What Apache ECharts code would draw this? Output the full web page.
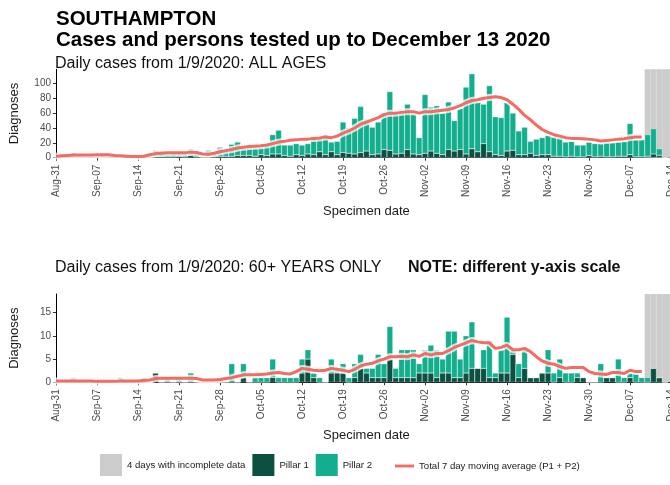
<!DOCTYPE html>
<html>
<head>
<meta charset="utf-8">
<script src="https://cdn.jsdelivr.net/npm/echarts@6/dist/echarts.min.js"></script>
<style>
  html, body { margin: 0; padding: 0; overflow: hidden; background: #fff; width: 670px; height: 485px; }
  #chart { width: 680px; height: 485px; }
</style>
</head>
<body>
<div id="chart"></div>
<script>
// Weekly tick labels, one every 7 days starting 31 Aug 2020
const tickLabels = ['Aug-31','Sep-07','Sep-14','Sep-21','Sep-28','Oct-05','Oct-12','Oct-19',
                    'Oct-26','Nov-02','Nov-09','Nov-16','Nov-23','Nov-30','Dec-07','Dec-14'];

// Daily diagnoses, all ages (index 0 = 31 Aug ... 104 = 13 Dec)
const allPillar1 = [
  0,0,1,0,1,0,1,1,0,1,
  1,0,0,0,0,1,1,1,1,1,
  1,2,1,3,1,0,1,1,2,2,
  2,3,3,3,2,4,3,5,5,3,
  2,4,3,5,4,8,4,8,4,7,
  6,5,7,9,4,5,11,10,5,6,
  11,5,4,6,9,6,4,11,9,11,
  5,12,8,19,8,4,3,9,10,4,
  4,6,3,4,4,2,2,1,2,1,
  1,3,1,2,1,1,2,2,4,1,
  1,2,5,3,0
];
const allPillar2 = [
  1,2,1,7,2,2,3,3,3,3,
  2,2,1,2,1,1,3,9,8,4,
  5,5,4,9,5,2,9,4,12,7,
  16,18,9,10,11,10,13,26,32,14,
  15,15,14,14,25,20,27,13,18,41,
  34,48,62,43,37,43,50,79,55,53,
  61,54,23,79,59,64,56,64,41,55,
  90,101,67,53,89,51,51,65,50,32,
  37,16,22,23,26,26,25,20,20,16,
  16,18,18,17,20,19,19,20,42,23,
  23,29,34,9,0
];
// 7 day moving average (P1 + P2), all ages, up to 9 Dec
const allAverage = [
  2,2.5,3,3.5,3.5,3.5,3.5,4,4,4,
  3,2.5,2,1.5,1.5,2,4,5.5,6,6.5,
  6.5,6.5,6.5,7.5,7,5,4.5,6,8,9.5,
  11,13,14,15,15.5,16,17,19,21,22,
  23.5,24,25,25,26,26.5,28,27,29,33,
  36,40,45,48,51,54,58,60,60,61,
  62,62,60,62,62,63,64,65,67,70,
  74,77,78,80,81,82,81,78,72,65,
  57,51,44,38,34,31,29,27,26,26,
  25.5,25,24,22.5,23,24,25,25.5,27,28,
  28
];

// Daily diagnoses, 60+ years only
const oldPillar1 = [
  0,0,0,0,0,0,0,0,0,0,
  0,0,0,0,0,0,0,2,0,0,
  0,0,0,0,0,0,0,0,0,0,
  0,0,1,0,0,0,0,1,0,0,
  0,0,2,5,1,0,0,2,2,2,
  0,1,3,2,1,1,1,5,1,1,
  1,1,2,2,2,1,2,2,1,1,
  2,3,3,3,1,1,2,2,6,1,
  3,1,1,2,2,0,1,0,0,1,
  1,0,0,0,1,1,0,0,1,0,
  0,0,3,1,0
];
const oldPillar2 = [
  0,0,0,1,0,0,0,0,0,0,
  0,1,0,0,0,1,0,0,0,1,
  0,1,0,2,0,0,0,0,1,0,
  4,0,3,0,1,1,1,4,1,1,
  1,1,3,2,1,1,0,3,1,2,
  1,3,3,1,2,5,3,7,2,6,
  6,6,2,5,6,6,3,9,10,4,
  8,10,0,4,8,1,5,12,1,3,
  4,0,0,0,5,2,4,2,2,1,
  0,0,0,4,0,0,5,1,1,2,
  1,1,0,0,0
];
const oldAverage = [
  0.3,0.3,0.3,0.3,0.3,0.3,0.3,0.2,0.2,0.2,
  0.2,0.3,0.3,0.3,0.3,0.4,0.5,0.8,0.85,0.85,
  0.85,0.85,0.85,0.85,0.8,0.5,0.5,0.5,0.6,0.8,
  1.0,1.3,1.6,1.6,1.6,1.7,1.8,2.0,2.1,1.9,
  1.8,2.3,3.0,2.8,2.6,2.5,2.6,3.0,2.8,2.6,
  2.3,2.8,3.5,3.9,4.1,4.6,5.0,5.5,5.5,5.6,
  5.5,5.9,5.6,6.2,5.9,6.2,6.2,6.8,7.5,8.0,
  8.5,9.0,8.7,8.5,8.5,7.3,7.5,8.0,7.0,7.0,
  7.3,6.6,5.5,4.6,4.1,3.9,3.4,3.0,3.2,3.2,
  3.2,2.3,1.9,1.8,1.7,2.1,2.1,1.9,2.6,2.3,
  2.3
];

const allTicksY = [0, 20, 40, 60, 80, 100];
const oldTicksY = [0, 5, 10, 15];
const allMaxY = 119;
const oldMaxY = 19;
const incompleteFirstDay = 101;   // 10 Dec: from here on the data are incomplete

const NAME_GREY = '4 days with incomplete data';
const NAME_P1 = 'Pillar 1';
const NAME_P2 = 'Pillar 2';
const NAME_AVG = 'Total 7 day moving average (P1 + P2)';

const COL_GREY = '#CCCCCC';
const COL_P1 = '#0B5040';
const COL_P2 = '#13AE8E';
const COL_AVG = '#F56A62';
const FONT = '"Liberation Sans", Arial, sans-serif';

// One category per day from 31 Aug to 15 Dec 2020; the axis runs from the first to the last day
const MONTHS = ['Jan','Feb','Mar','Apr','May','Jun','Jul','Aug','Sep','Oct','Nov','Dec'];
const dayCategories = Array.from({ length: 107 }, (_, i) => {
  const d = new Date(Date.UTC(2020, 7, 31 + i));
  return MONTHS[d.getUTCMonth()] + '-' + String(d.getUTCDate()).padStart(2, '0');
});
// full-height shading over the incomplete days, up to the right edge
const bandFor = maxY => dayCategories.map((_, i) => (i >= incompleteFirstDay && i <= 105) ? maxY : null);

const chart = echarts.init(document.getElementById('chart'), null, { renderer: 'canvas' });

function makeX(gridIndex) {
  return {
    type: 'category', gridIndex, data: dayCategories, boundaryGap: false,
    splitLine: { show: false },
    axisLine: { show: true, onZero: false, lineStyle: { color: '#000', width: 1 } },
    axisTick: { show: true, length: 3, interval: 6, lineStyle: { color: '#333' } },
    axisLabel: {
      rotate: 90, margin: 7, fontSize: 10, color: '#4d4d4d', fontFamily: FONT,
      interval: 6,
      formatter: (v, i) => tickLabels[Math.round(i / 7)] || v
    },
    name: 'Specimen date', nameLocation: 'middle', nameGap: 47,
    nameTextStyle: { fontSize: 13, color: '#1a1a1a', fontFamily: FONT }
  };
}
function makeY(gridIndex, max, ticks) {
  return {
    type: 'value', gridIndex, min: 0, max: max,
    splitLine: { show: false },
    axisLine: { show: true, lineStyle: { color: '#000', width: 1 } },
    axisTick: { show: true, length: 3, customValues: ticks, lineStyle: { color: '#333' } },
    axisLabel: { margin: 5, fontSize: 10, color: '#4d4d4d', fontFamily: FONT, customValues: ticks },
    name: 'Diagnoses', nameLocation: 'middle', nameRotate: 90, nameGap: 35,
    nameTextStyle: { fontSize: 13, color: '#1a1a1a', fontFamily: FONT }
  };
}
function panelSeries(idx, p1, p2, avg, maxY) {
  const barBase = { type: 'bar', xAxisIndex: idx, yAxisIndex: idx, barWidth: 5.87, barGap: '-100%' };
  return [
    Object.assign({}, barBase, {
      name: NAME_GREY, data: bandFor(maxY), z: 1, silent: true,
      itemStyle: { color: COL_GREY, borderColor: COL_GREY, borderWidth: 1.6 }
    }),
    Object.assign({}, barBase, {
      name: NAME_P1, stack: 'pillars' + idx, data: p1, z: 2,
      itemStyle: { color: COL_P1, borderColor: 'rgba(255,255,255,0.7)', borderWidth: 0.4 }
    }),
    Object.assign({}, barBase, {
      name: NAME_P2, stack: 'pillars' + idx, data: p2, z: 2,
      itemStyle: { color: COL_P2, borderColor: 'rgba(255,255,255,0.7)', borderWidth: 0.4 }
    }),
    {
      name: 'halo' + idx, type: 'line', xAxisIndex: idx, yAxisIndex: idx,
      data: avg, symbol: 'none', silent: true, z: 3,
      lineStyle: { color: 'rgba(255,255,255,0.75)', width: 7 }
    },
    {
      name: NAME_AVG, type: 'line', xAxisIndex: idx, yAxisIndex: idx,
      data: avg, symbol: 'none', z: 4,
      itemStyle: { color: COL_AVG },
      lineStyle: { color: COL_AVG, width: 3 }
    }
  ];
}

const squareKey = { borderWidth: 0 };
const option = {
  animation: false,
  backgroundColor: '#fff',
  textStyle: { fontFamily: FONT },
  title: [
    { text: 'SOUTHAMPTON\nCases and persons tested up to December 13 2020', left: 56, top: 9, padding: 0,
      textStyle: { fontSize: 20.5, lineHeight: 21, fontWeight: 'bold', color: '#000', fontFamily: FONT } },
    { text: 'Daily cases from 1/9/2020: ALL AGES', left: 55, top: 56, padding: 0,
      textStyle: { fontSize: 16, lineHeight: 16, fontWeight: 'normal', color: '#111', fontFamily: FONT } },
    { text: 'Daily cases from 1/9/2020: 60+ YEARS ONLY', left: 55, top: 260, padding: 0,
      textStyle: { fontSize: 16, lineHeight: 16, fontWeight: 'normal', color: '#111', fontFamily: FONT } },
    { text: 'NOTE: different y-axis scale', left: 408, top: 260, padding: 0,
      textStyle: { fontSize: 16, lineHeight: 16, fontWeight: 'bold', color: '#111', fontFamily: FONT } }
  ],
  legend: [
    { left: 100, top: 454, itemWidth: 22, itemHeight: 22, itemGap: 7, padding: 0,
      textStyle: { fontSize: 9.6, color: '#1a1a1a', fontFamily: FONT },
      data: [
        { name: NAME_GREY, icon: 'rect', itemStyle: squareKey },
        { name: NAME_P1, icon: 'rect', itemStyle: squareKey },
        { name: NAME_P2, icon: 'rect', itemStyle: squareKey }
      ],
      selectedMode: false },
    { left: 395, top: 461, itemWidth: 19, itemHeight: 22, padding: 0,
      textStyle: { fontSize: 9.6, color: '#1a1a1a', fontFamily: FONT },
      data: [{ name: NAME_AVG, icon: 'path://M0,0 L20,0 L20,3 L0,3 Z' }],
      selectedMode: false }
  ],
  // 106 day-steps of 5.867 px each, starting on the y axis
  grid: [
    { left: 55, top: 69.3, width: 621.9, height: 88.4 },
    { left: 55, top: 294, width: 621.9, height: 88.3 }
  ],
  xAxis: [makeX(0), makeX(1)],
  yAxis: [makeY(0, allMaxY, allTicksY), makeY(1, oldMaxY, oldTicksY)],
  series: [
    ...panelSeries(0, allPillar1, allPillar2, allAverage, allMaxY),
    ...panelSeries(1, oldPillar1, oldPillar2, oldAverage, oldMaxY)
  ]
};
chart.setOption(option);
</script>
</body>
</html>
